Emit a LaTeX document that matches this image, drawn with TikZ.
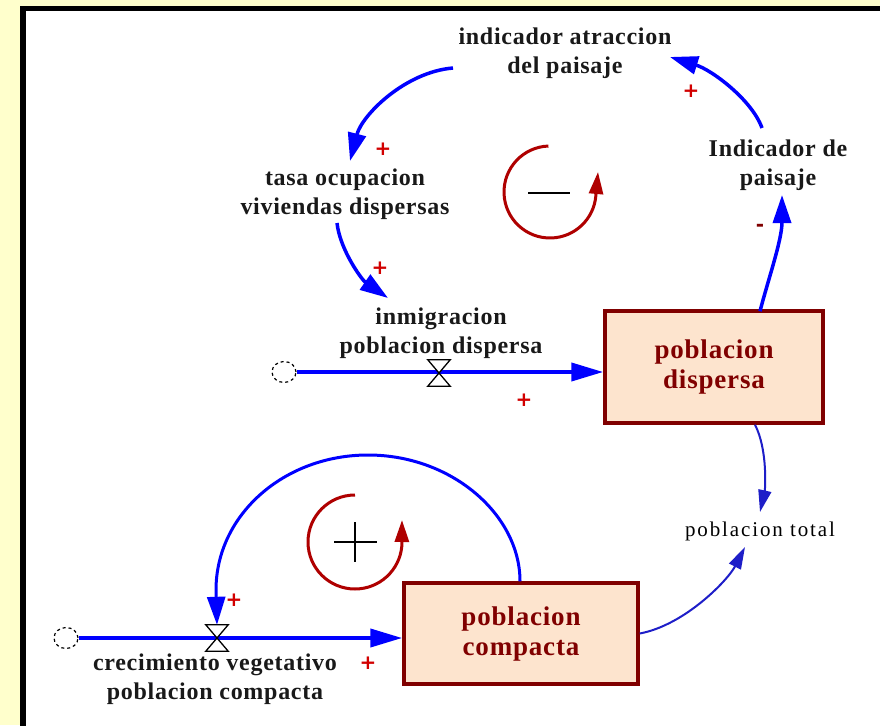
\documentclass[tikz,border=0pt]{standalone}
\usepackage{fontspec}
\setmainfont{Liberation Serif}
\newfontfamily\spacedserif[LetterSpace=3]{Liberation Serif}
\newfontfamily\widerserif[LetterSpace=9]{Liberation Serif}
\newfontfamily\signfont{DejaVu Sans}
\usetikzlibrary{arrows.meta,calc,shapes.geometric}

\definecolor{pagebg}{RGB}{255,255,204}
\definecolor{linkblue}{RGB}{0,0,255}
\definecolor{thinblue}{RGB}{30,30,200}
\definecolor{stockedge}{RGB}{128,0,0}
\definecolor{stockfill}{RGB}{253,228,206}
\definecolor{stocktext}{RGB}{128,0,0}
\definecolor{loopred}{RGB}{175,0,0}
\definecolor{polred}{RGB}{210,0,0}

\begin{document}
\begin{tikzpicture}[x=1pt,y=-1pt,
  lbl/.style={font=\spacedserif\fontsize{24}{29}\selectfont\bfseries, align=center, inner sep=0pt, text=black!90},
  stock/.style={draw=stockedge, line width=3.5pt, fill=stockfill,
    font=\spacedserif\fontsize{27}{30}\selectfont\bfseries, text=stocktext, align=center,
    minimum width=218pt, minimum height=112pt},
  link/.style={draw=linkblue, line width=3.5pt, -{Triangle[length=28pt,width=18pt]}},
  thinlink/.style={draw=thinblue, line width=2pt, -{Triangle[length=22pt,width=13pt]}},
  pipe/.style={draw=linkblue, line width=4pt, -{Triangle[length=32pt,width=18pt]}},
  cloudy/.style={draw, dashed, ellipse, minimum width=24pt, minimum height=21pt, inner sep=0pt, line width=1.2pt},
  valve/.style={minimum width=22pt, minimum height=26pt, inner sep=0pt},
  valveshape/.style={draw=black, line width=1.3pt, fill=white, line join=miter},
  pol/.style={text=polred, font=\signfont\fontsize{20}{20}\selectfont\bfseries, inner sep=0pt},
  loopmark/.style={draw=loopred, line width=3pt, -{Triangle[length=22pt,width=14pt]}},
]
% background and frame
\fill[pagebg] (0,0) rectangle (880,725);
\useasboundingbox (0,0) rectangle (880,725);
\begin{scope}
  \clip (0,0) rectangle (880,725);
  \draw[line width=5.5pt, fill=white] (23.2,8.6) rectangle (900,745);
\end{scope}

% auxiliary variables
\node[lbl] (atr) at (565,53) {indicador atraccion\\del paisaje};
\node[lbl] (ind) at (778,165) {Indicador de\\paisaje};
\node[lbl] (tasa) at (345,194) {tasa ocupacion\\viviendas dispersas};
\node[lbl] (inm) at (441,333) {inmigracion\\poblacion dispersa};
\node[lbl] (crec) at (215,679) {crecimiento vegetativo\\poblacion compacta};
\node[font=\widerserif\fontsize{21}{22}\selectfont, inner sep=0pt] (tot) at (760,531) {poblacion total};

% stocks
\node[stock] (dis) at (714,367) {poblacion\\dispersa};
\node[stock, minimum width=234pt, minimum height=101pt] (com) at (521,633.5) {poblacion\\compacta};

% sources and valves
\node[cloudy] (c1) at (284,372) {};
\node[cloudy] (c2) at (66,638) {};
\node[valve] (v1) at (439,373) {};
\node[valve] (v2) at (217,638) {};

% flows
\draw[pipe] (c1.east) -- (c1.east -| dis.west);
\draw[pipe] (c2.east) -- (c2.east -| com.west);
\foreach \v in {v1,v2}
  \draw[valveshape] (\v.north west) -- (\v.north east) -- (\v.south west) -- (\v.south east) -- cycle;

% causal links
\draw[link] ($(atr)+(-112,15)$) .. controls (405,72) and (362,115) .. ($(tasa)+(5,-33)$);
\draw[link] ($(tasa)+(-8,29)$) .. controls (340,250) and (362,280) .. ($(inm)+(-53,-35)$);
\draw[link] ($(dis.north)+(46,2)$) .. controls (768,280) and (782,240) .. ($(ind)+(4,30)$);
\draw[link] ($(ind)+(-16,-37)$) .. controls (752,100) and (712,70) .. ($(atr)+(105,4)$);
\draw[link, line width=3pt] ($(com.north)+(-1,0)$) .. controls (520,515) and (452,455) .. (368,455)
  .. controls (284,455) and (216,515) .. (216,590) -- (v2.north);
\draw[thinlink] ($(dis.south)+(41,0)$) .. controls (768,450) and (765,490) .. ($(tot)+(0,-19)$);
\draw[thinlink] (com.east) .. controls (685,625) and (728,580) .. ($(tot)+(-15,16)$);

% polarities
\node[pol] (p1) at (383,149) {+};
\node[pol] (p2) at (380,268) {+};
\node[pol] (p3) at (691,91) {+};
\node[pol, text=stockedge] (p4) at (760,228) {-};
\node[pol] (p5) at (524,400) {+};
\node[pol] (p6) at (234,600) {+};
\node[pol] (p7) at (368,663) {+};

% loop markers
\coordinate (lneg) at (550,192);
\coordinate (lpos) at (355,542);
\draw[loopmark] ($(lneg)+(92:46pt)$) arc[start angle=92, end angle=355, radius=46pt] -- ($(lneg)+(48,-20)$);
\draw[line width=2pt] ($(lneg)+(-22,1)$) -- ($(lneg)+(20,1)$);
\draw[loopmark] ($(lpos)+(90:47pt)$) arc[start angle=90, end angle=355, radius=47pt] -- ($(lpos)+(47,-22)$);
\draw[line width=2.5pt] ($(lpos)+(-21,0)$) -- ($(lpos)+(22,0)$);
\draw[line width=2.5pt] ($(lpos)+(0,-20)$) -- ($(lpos)+(0,20)$);
\end{tikzpicture}
\end{document}
